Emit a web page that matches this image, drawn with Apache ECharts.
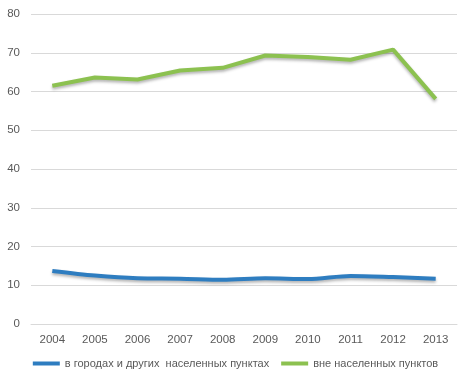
<!DOCTYPE html>
<html><head><meta charset="utf-8">
<script src="https://cdn.jsdelivr.net/npm/echarts@6/dist/echarts.min.js"></script>
<style>html,body{margin:0;padding:0;background:#fff}#c{width:471px;height:386px}</style>
</head><body><div id="c"></div>
<script>
var years = ['2004','2005','2006','2007','2008','2009','2010','2011','2012','2013'];
var cities = [13.7, 12.5, 11.8, 11.7, 11.4, 11.8, 11.6, 12.4, 12.1, 11.7];
var outside = [61.5, 63.6, 63.1, 65.4, 66.1, 69.3, 68.9, 68.2, 70.8, 58.1];
var names = ['в городах и других  населенных пунктах', 'вне населенных пунктов'];
var font = 'Liberation Sans';
var chart = echarts.init(document.getElementById('c'));
chart.setOption({
  animation: false,
  grid: {left: 31, right: 14, top: 14, bottom: 62},
  legend: {
    bottom: 12, left: 'center', itemWidth: 27, itemHeight: 4, itemGap: 12,
    icon: 'rect',
    textStyle: {color: '#595959', fontSize: 11, fontFamily: font},
    data: names
  },
  xAxis: {
    type: 'category', data: years, boundaryGap: true,
    axisLine: {lineStyle: {color: '#d9d9d9'}}, axisTick: {show: false},
    axisLabel: {color: '#595959', fontSize: 11.5, fontFamily: font, margin: 10}
  },
  yAxis: {
    type: 'value', min: 0, max: 80, interval: 10,
    axisLine: {show: false}, axisTick: {show: false},
    splitLine: {lineStyle: {color: '#d9d9d9'}},
    axisLabel: {color: '#595959', fontSize: 11.5, fontFamily: font, margin: 11}
  },
  series: [
    {name: names[0], type: 'line', data: cities, smooth: 0.3, symbol: 'none',
     itemStyle: {color: '#2e7dc0'},
     lineStyle: {width: 4, color: '#2e7dc0', shadowColor: 'rgba(0,0,0,0.3)', shadowBlur: 3, shadowOffsetY: 2}},
    {name: names[1], type: 'line', data: outside, symbol: 'none',
     itemStyle: {color: '#8cc150'},
     lineStyle: {width: 4, color: '#8cc150', shadowColor: 'rgba(0,0,0,0.3)', shadowBlur: 3, shadowOffsetY: 2}}
  ]
});
</script></body></html>
